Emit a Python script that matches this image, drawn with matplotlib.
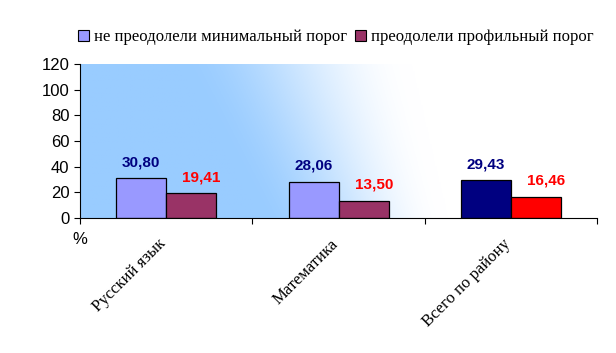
import numpy as np
import matplotlib
matplotlib.use('Agg')
import matplotlib.pyplot as plt
from matplotlib.patches import Patch

categories = ['Русский язык', 'Математика', 'Всего по району']
not_min = [30.80, 28.06, 29.43]
not_prof = [19.41, 13.50, 16.46]
labels_min = ['30,80', '28,06', '29,43']
labels_prof = ['19,41', '13,50', '16,46']
yticks = [0, 20, 40, 60, 80, 100, 120]
series_names = ['не преодолели минимальный порог', 'преодолели профильный порог']

col_min = ['#9999FF', '#9999FF', '#000080']
col_prof = ['#993366', '#993366', '#FF0000']

fig = plt.figure(figsize=(6.16, 3.53), dpi=100)
ax = fig.add_axes([0.1299, 0.3824, 0.8394, 0.4363])

# gradient background (blue on the left fading to white, slanted)
nx, ny = 400, 120
fx, fv = np.meshgrid(np.linspace(0, 1, nx), np.linspace(0, 1, ny))  # fv: 0 top, 1 bottom
start = 0.19 + 0.16 * fv
end = 0.64 + 0.07 * fv
t = np.clip((fx - start) / (end - start), 0, 1)
t = t * t * (3 - 2 * t)
c0 = np.array([153, 204, 255]) / 255.0
c1 = np.array([255, 255, 255]) / 255.0
img = c0[None, None, :] * (1 - t[..., None]) + c1[None, None, :] * t[..., None]
ax.imshow(img, extent=[0, 3, 0, 120], aspect='auto', origin='upper', zorder=0)

x = np.arange(len(categories)) + 0.5
w = 0.29
ax.bar(x - w / 2, not_min, w, color=col_min, edgecolor='black', linewidth=0.9, zorder=2)
ax.bar(x + w / 2, not_prof, w, color=col_prof, edgecolor='black', linewidth=0.9, zorder=2)

for i in range(len(categories)):
    ax.text(x[i] - w / 2, not_min[i] + 12.5, labels_min[i], ha='center', va='center',
            color='#000080', fontsize=11, fontweight='bold', family='Liberation Sans')
    ax.text(x[i] + w / 2 + 0.06, not_prof[i] + 12.5, labels_prof[i], ha='center', va='center',
            color='#FF0000', fontsize=11, fontweight='bold', family='Liberation Sans')

ax.set_xlim(0, 3)
ax.set_ylim(0, 120)
ax.set_yticks(yticks)
ax.set_yticklabels([str(v) for v in yticks], family='Liberation Sans', fontsize=12)
ax.set_xticks([0, 1, 2, 3])
ax.set_xticklabels([])
ax.tick_params(axis='both', direction='out', length=4, color='black')
ax.spines['top'].set_visible(False)
ax.spines['right'].set_visible(False)

for i, c in enumerate(categories):
    ax.text(x[i] - 0.05, -14, c, rotation=45, ha='right', va='top', rotation_mode='anchor',
            family='Liberation Serif', fontsize=12)

ax.text(0.0, -17, '%', ha='center', va='center', family='Liberation Sans', fontsize=12)

handles = [Patch(facecolor='#9999FF', edgecolor='black', linewidth=0.8),
           Patch(facecolor='#993366', edgecolor='black', linewidth=0.8)]
fig.legend(handles, series_names, loc='center', bbox_to_anchor=(0.545, 0.895), ncol=2,
           frameon=False, prop={'family': 'Liberation Serif', 'size': 12},
           handlelength=0.65, handleheight=0.65, handletextpad=0.3, columnspacing=0.5)

fig.savefig('out.png', dpi=100)
